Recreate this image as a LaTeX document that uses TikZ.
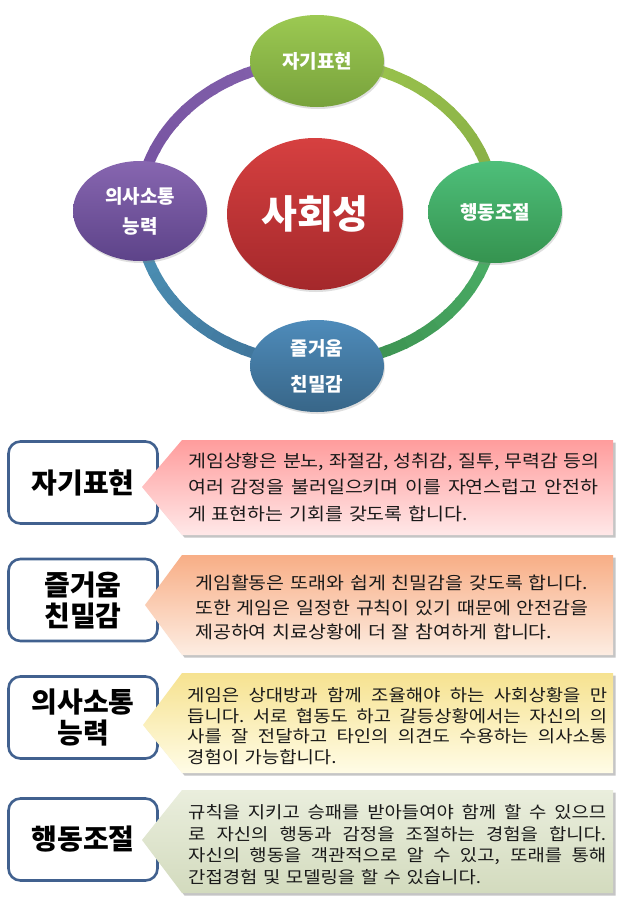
\documentclass[tikz,border=0pt]{standalone}
\usepackage{fontspec}
\setmainfont{Noto Sans CJK KR}[WordSpace=1.9]
\newfontfamily\bodyfont{Noto Sans CJK KR}[FakeStretch=1.12,WordSpace=2.1]
\usetikzlibrary{shapes.geometric,shadows}
\definecolor{LeafTop}{HTML}{9CC952}
\definecolor{LeafBot}{HTML}{78A23C}
\definecolor{MintTop}{HTML}{4EBF7A}
\definecolor{MintBot}{HTML}{35934F}
\definecolor{PlumTop}{HTML}{8766B0}
\definecolor{PlumBot}{HTML}{5D4389}
\definecolor{SeaTop}{HTML}{4E8BBA}
\definecolor{SeaBot}{HTML}{386688}
\definecolor{HubTop}{HTML}{D64040}
\definecolor{HubBot}{HTML}{A4282B}
\definecolor{RingA}{HTML}{9DC64E}
\definecolor{RingB}{HTML}{86AD45}
\definecolor{RingC}{HTML}{4DB46B}
\definecolor{RingD}{HTML}{3A8C4C}
\definecolor{RingE}{HTML}{3E6F95}
\definecolor{RingF}{HTML}{4D94B8}
\definecolor{RingG}{HTML}{7452A0}
\definecolor{RingH}{HTML}{8461AC}
\definecolor{FrameBlue}{HTML}{41618F}
\definecolor{RoseTop}{HTML}{FF9C9C}
\definecolor{RoseBot}{HTML}{FFE8E8}
\definecolor{PeachTop}{HTML}{F8AE86}
\definecolor{PeachBot}{HTML}{FDEDE2}
\definecolor{LemonTop}{HTML}{F6E290}
\definecolor{LemonBot}{HTML}{FFFCE6}
\definecolor{SageTop}{HTML}{EAEEDD}
\definecolor{SageBot}{HTML}{D3DBBE}
\newcommand{\jline}[2]{\leavevmode\hbox to #1{\spaceskip=0.3em plus 1fil\relax #2}}

\begin{document}
\begin{tikzpicture}[x=1pt,y=-1pt,
bubble/.style={ellipse,minimum width=134pt,inner sep=0pt,text=white,align=center,
  font=\fontsize{19}{30}\selectfont\bfseries,
  drop shadow={opacity=0.25,shadow xshift=1pt,shadow yshift=-2pt}},
ring/.style={line width=11pt},
tag/.style={draw=FrameBlue,line width=2.6pt,rounded corners=12pt,fill=white,
  minimum width=149pt,minimum height=82pt,align=center,
  font=\fontsize{28}{31}\selectfont\bfseries},
callout/.style={drop shadow={opacity=0.45,shadow xshift=2.5pt,shadow yshift=-2.5pt}},
note/.style={anchor=west,align=left,inner sep=0pt,text=black!90}
]
\useasboundingbox (0,0) rectangle (620,902);
\fill[white] (0,0) rectangle (620,902);

% ring round the hub
\coordinate (ringc) at (317,212);
\foreach \sa/\ca/\cb in {90/RingA/RingB,0/RingC/RingD,-90/RingE/RingF,-180/RingG/RingH}
  \foreach \i in {0,...,14}{
    \pgfmathtruncatemacro\p{100-\i*100/14}
    \draw[ring,\ca!\p!\cb] (ringc) ++({\sa-\i*6}:178pt and 151pt)
      arc[start angle={\sa-\i*6},delta angle=-7,x radius=178pt,y radius=151pt];
  }

\node[bubble,top color=LeafTop,bottom color=LeafBot,minimum height=92pt] (self) at (317,61) {자기표현};
\node[bubble,top color=MintTop,bottom color=MintBot,minimum height=102pt] (ctrl) at (495,212) {행동조절};
\node[bubble,top color=SeaTop,bottom color=SeaBot,minimum height=92pt,
  font=\fontsize{19}{36}\selectfont\bfseries] (fun) at (317,366) {즐거움\\친밀감};
\node[bubble,top color=PlumTop,bottom color=PlumBot,minimum height=100pt] (talk) at (140,211) {의사소통\\능력};
\node[ellipse,minimum width=176pt,minimum height=152pt,top color=HubTop,bottom color=HubBot,
  text=white,font=\fontsize{39}{42}\selectfont\bfseries,
  drop shadow={opacity=0.25,shadow xshift=1pt,shadow yshift=-2pt}] (hub) at (315,214) {사회성};

% rows below
\node[tag] (t1) at (83,482.5) {자기표현};
\path[callout,top color=RoseTop,bottom color=RoseBot]
  (182,440) -- (613,440) -- (613,535) -- (182,535) -- (142,487) -- cycle;
\node[note,text width=410pt,font=\bodyfont\fontsize{17.4}{26.5}\selectfont] (d1) at (188,487) {%
  \jline{410pt}{게임상황은 분노, 좌절감, 성취감, 질투, 무력감 등의}\\
  \jline{410pt}{여러 감정을 불러일으키며 이를 자연스럽고 안전하}\\
  게 표현하는 기회를 갖도록 합니다.};

\node[tag] (t2) at (83,600) {즐거움\\친밀감};
\path[callout,top color=PeachTop,bottom color=PeachBot]
  (182,555) -- (613,555) -- (613,655) -- (182,655) -- (145,605) -- cycle;
\node[note,text width=410pt,font=\bodyfont\fontsize{17.4}{24.5}\selectfont] (d2) at (195,607.5) {%
  게임활동은 또래와 쉽게 친밀감을 갖도록 합니다.\\
  또한 게임은 일정한 규칙이 있기 때문에 안전감을\\
  제공하여 치료상황에 더 잘 참여하게 합니다.};

\node[tag] (t3) at (83,717.5) {의사소통\\능력};
\path[callout,top color=LemonTop,bottom color=LemonBot]
  (182,673) -- (613,673) -- (613,773) -- (182,773) -- (143,725) -- cycle;
\node[note,text width=420pt,font=\bodyfont\fontsize{16.8}{20.7}\selectfont] (d3) at (187,726) {%
  \jline{420pt}{게임은 상대방과 함께 조율해야 하는 사회상황을 만}\\
  \jline{420pt}{듭니다. 서로 협동도 하고 갈등상황에서는 자신의 의}\\
  \jline{420pt}{사를 잘 전달하고 타인의 의견도 수용하는 의사소통}\\
  경험이 가능합니다.};

\node[tag] (t4) at (83,839.5) {행동조절};
\path[callout,top color=SageTop,bottom color=SageBot]
  (182,790) -- (613,790) -- (613,893) -- (182,893) -- (142,840) -- cycle;
\node[note,text width=418pt,font=\bodyfont\fontsize{16.8}{21.7}\selectfont] (d4) at (188,844.5) {%
  \jline{418pt}{규칙을 지키고 승패를 받아들여야 함께 할 수 있으므}\\
  \jline{418pt}{로 자신의 행동과 감정을 조절하는 경험을 합니다.}\\
  \jline{418pt}{자신의 행동을 객관적으로 알 수 있고, 또래를 통해}\\
  간접경험 및 모델링을 할 수 있습니다.};
\end{tikzpicture}
\end{document}
